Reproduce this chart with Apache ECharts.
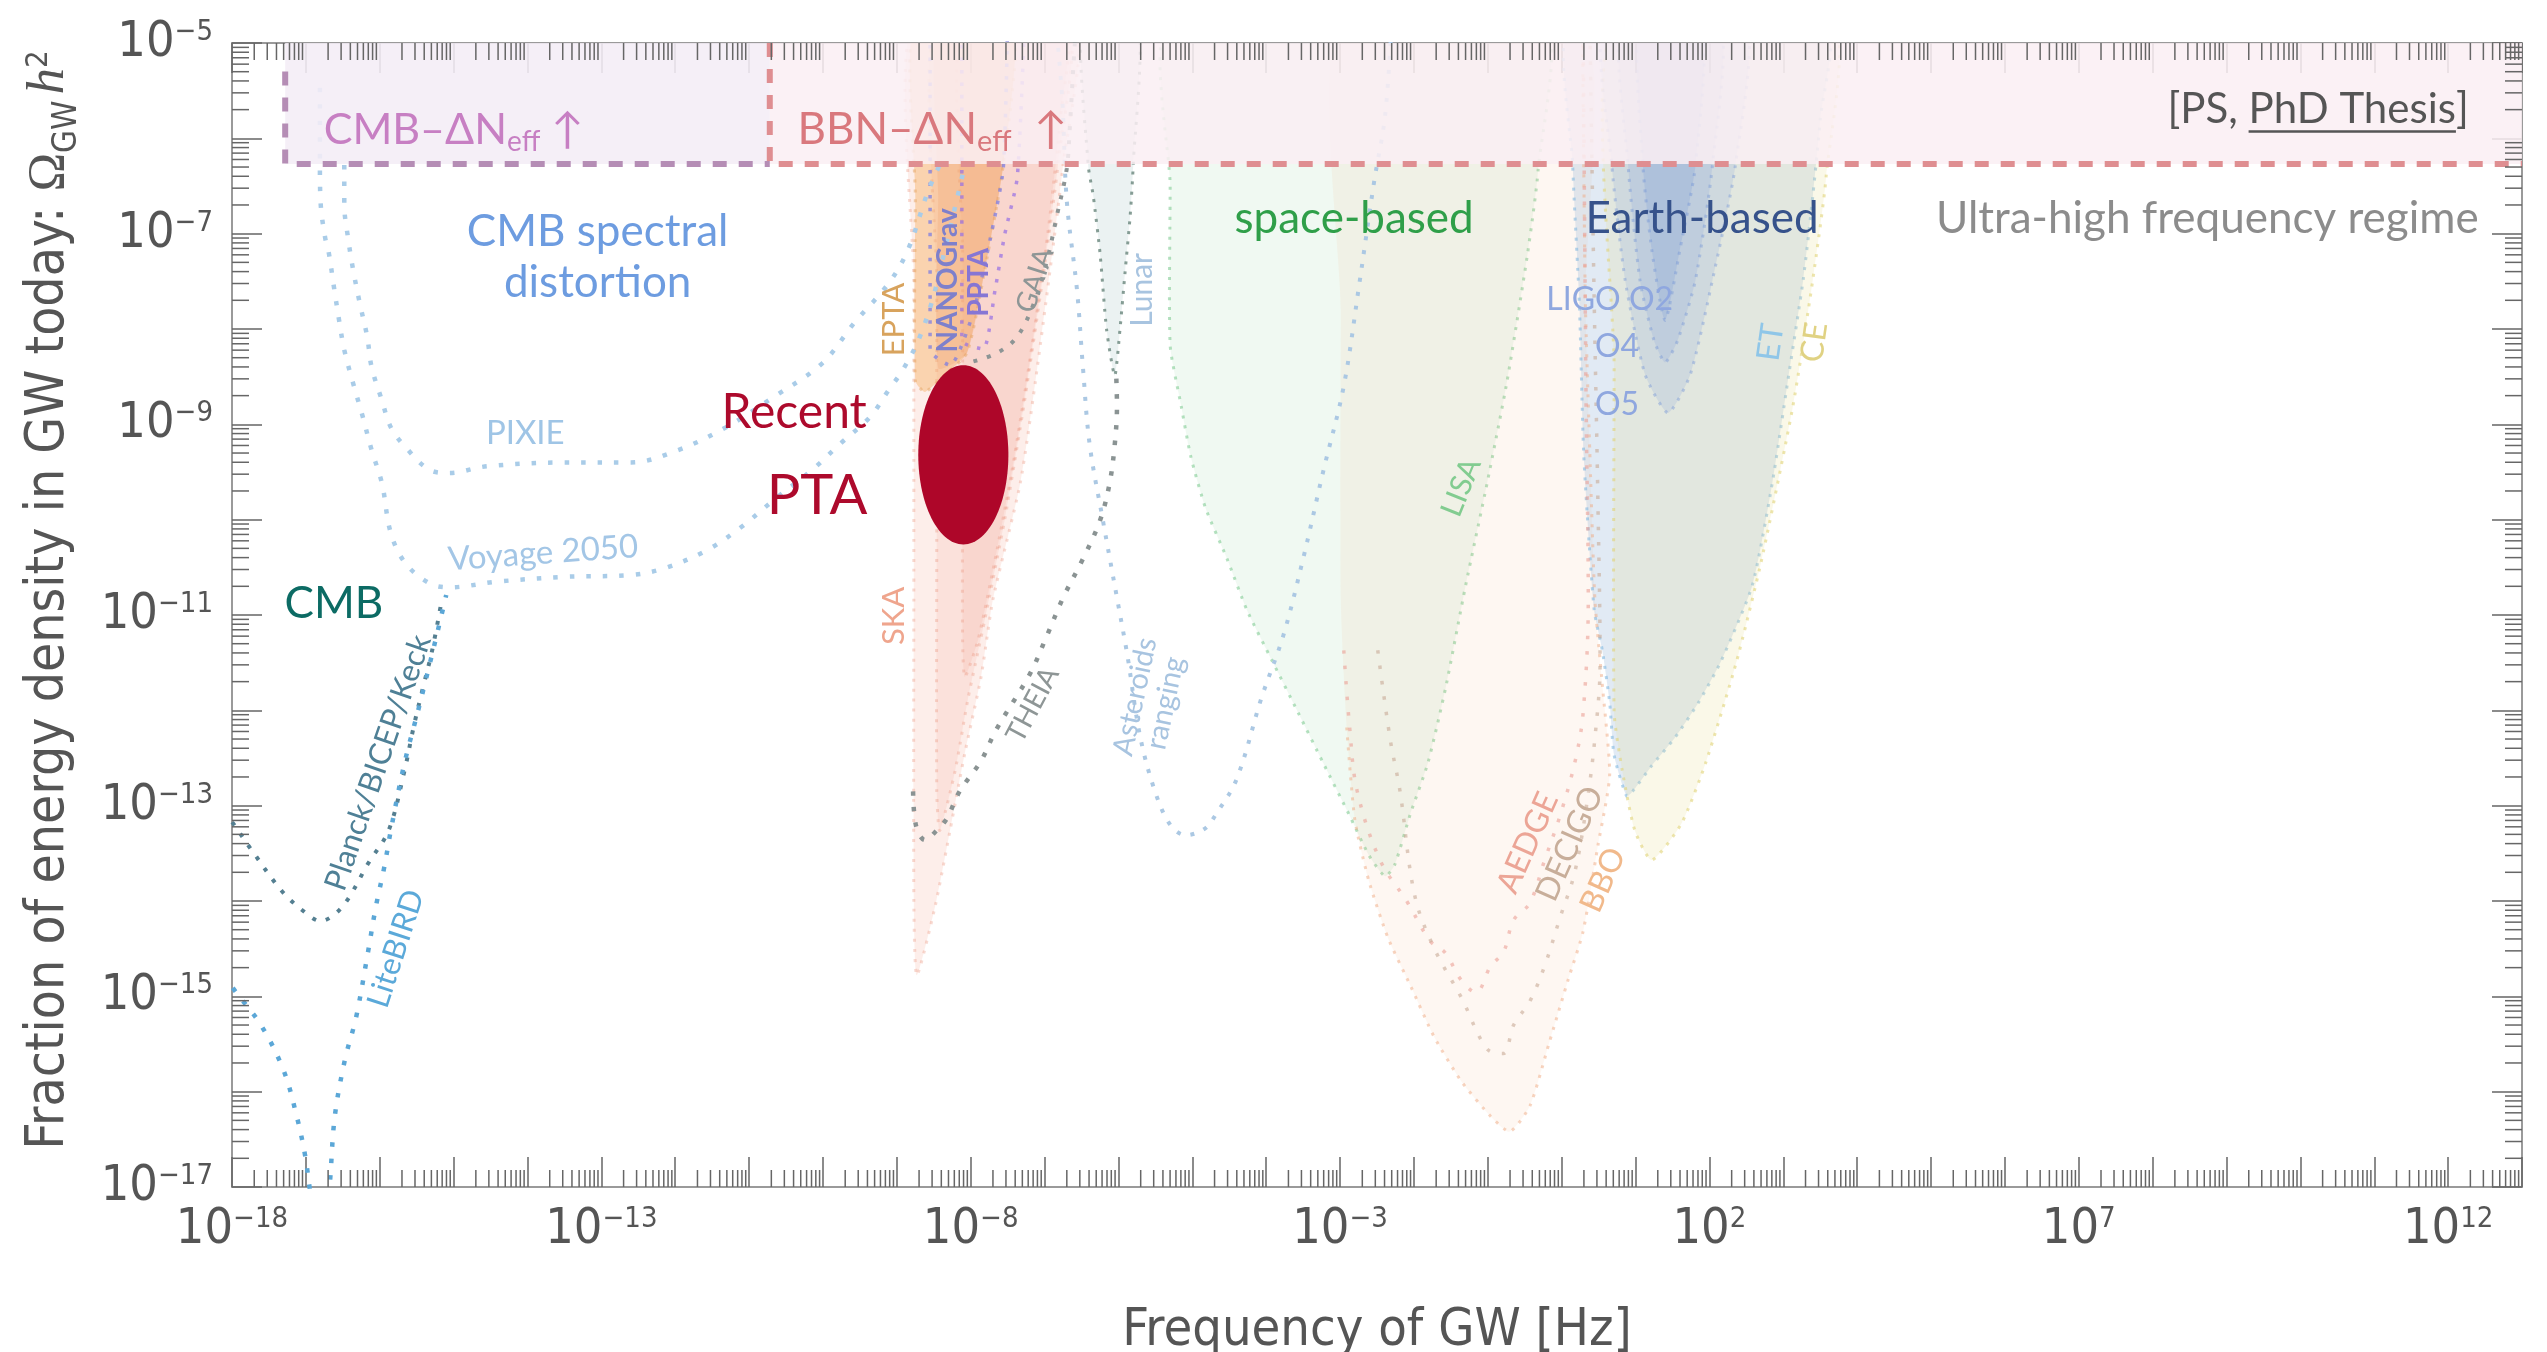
<!DOCTYPE html>
<html>
<head>
<meta charset="utf-8">
<title>Gravitational-wave sensitivity landscape</title>
<script src="https://cdn.jsdelivr.net/npm/echarts@6/dist/echarts.min.js"></script>
<style>
  html, body { margin: 0; padding: 0; background: #ffffff; }
  #chart { width: 2547px; height: 1352px; }
</style>
</head>
<body>
<div id="chart"></div>
<script>
// Every point is [log10(f / Hz), log10(Omega_GW h^2)].

// ---- axes ----
const freqExpRange = [-18, 13];
const omegaExpRange = [-17, -5];
const freqLabelStep = 5;   // label every 5th decade on the frequency axis
const omegaLabelStep = 2;  // label every 2nd decade on the energy-density axis

// ---- Delta N_eff bound (CMB part and BBN part) ----
const neffBound = -6.27;
const cmbNeffSpan = [-17.28, -10.72];
const bbnNeffSpan = [-10.72, 13.5];
const cmbNeffOutline = [[-17.28, -5.3], [-17.28, -6.27], [-10.72, -6.27]];
const bbnNeffOutline = [[-10.72, -5.0], [-10.72, -6.27], [13.0, -6.27]];

// ---- CMB ----
const planckCurve = [[-18.23,-12.94],[-18.00,-13.17],[-17.74,-13.46],[-17.32,-13.90],[-17.01,-14.12],[-16.80,-14.21],[-16.61,-14.14],[-16.43,-13.98],[-16.16,-13.61],[-15.88,-13.26],[-15.67,-12.65],[-15.54,-12.17],[-15.43,-11.81],[-15.29,-11.37],[-15.16,-10.84]];
const litebirdCurve = [[-18.23,-14.62],[-18.00,-14.90],[-17.61,-15.30],[-17.30,-15.78],[-17.12,-16.27],[-17.01,-16.67],[-16.92,-17.14],[-16.81,-17.45],[-16.70,-17.14],[-16.61,-16.27],[-16.47,-15.66],[-16.32,-15.22],[-16.16,-14.54],[-16.05,-14.05],[-15.94,-13.65],[-15.85,-13.26],[-15.67,-12.57],[-15.47,-11.97],[-15.25,-11.28],[-15.10,-10.79]];

// ---- CMB spectral distortion ----
const pixieCurve = [[-16.48,-6.28],[-16.48,-6.70],[-16.43,-7.04],[-16.36,-7.38],[-16.27,-7.73],[-16.17,-8.08],[-16.11,-8.40],[-15.97,-8.75],[-15.85,-9.03],[-15.65,-9.24],[-15.32,-9.48],[-15.06,-9.51],[-14.55,-9.44],[-13.51,-9.40],[-12.60,-9.40],[-11.96,-9.27],[-11.31,-9.03],[-10.66,-8.71],[-10.01,-8.36],[-9.57,-7.93],[-9.11,-7.52],[-8.85,-7.17],[-8.58,-6.56],[-8.42,-6.28]];
const voyageCurve = [[-16.81,-5.47],[-16.81,-6.28],[-16.80,-6.68],[-16.74,-7.04],[-16.69,-7.20],[-16.62,-7.56],[-16.55,-7.91],[-16.48,-8.22],[-16.36,-8.57],[-16.23,-8.92],[-16.11,-9.27],[-15.97,-9.62],[-15.85,-10.14],[-15.65,-10.46],[-15.32,-10.67],[-15.06,-10.71],[-14.41,-10.65],[-13.51,-10.60],[-12.60,-10.58],[-12.15,-10.51],[-11.57,-10.32],[-11.11,-10.08],[-10.66,-9.79],[-10.15,-9.48],[-9.76,-9.20],[-9.36,-8.92],[-9.11,-8.64],[-8.92,-8.43],[-8.71,-8.12],[-8.52,-7.70],[-8.35,-7.17],[-8.19,-6.65],[-8.08,-6.28]];

// ---- pulsar timing arrays ----
const skaRegion = [[-8.77,-4.76],[-8.77,-7.5],[-8.77,-10.5],[-8.77,-13.99],[-8.73,-14.78],[-8.48,-14.05],[-8.28,-13.26],[-8.08,-12.45],[-7.86,-11.65],[-7.70,-10.84],[-7.33,-9.62],[-7.10,-8.41],[-6.75,-6.28],[-6.59,-4.76]];
const ptaMidRegion = [[-8.46,-4.76],[-8.46,-7.5],[-8.46,-10.2],[-8.46,-12.84],[-8.42,-13.26],[-8.21,-12.63],[-8.04,-11.89],[-7.81,-11.05],[-7.54,-10.00],[-7.27,-8.75],[-6.99,-7.28],[-6.82,-6.28],[-6.68,-4.76]];
const pptaRegion = [[-8.11,-4.76],[-8.11,-7.2],[-8.11,-9.4],[-8.11,-11.26],[-8.08,-11.65],[-7.90,-11.26],[-7.67,-10.42],[-7.44,-9.48],[-7.20,-8.33],[-6.95,-6.96],[-6.79,-5.81],[-6.71,-4.76]];
const eptaRegion = [[-8.75,-4.76],[-8.75,-6.6],[-8.75,-8.54],[-8.62,-8.66],[-8.35,-8.48],[-8.05,-8.25],[-7.81,-7.38],[-7.56,-6.28],[-7.44,-4.76]];
const nanogravRegion = [[-8.44,-4.76],[-8.44,-6.6],[-8.44,-8.41],[-8.05,-8.25],[-7.81,-7.38],[-7.56,-6.28],[-7.44,-4.76]];
const nanogravOutline = [[-8.55,-4.76],[-8.55,-8.22],[-8.28,-8.38],[-7.97,-7.84],[-7.74,-7.07],[-7.56,-6.32],[-7.50,-4.76]];
const pptaOutline = [[-8.12,-4.76],[-8.12,-8.12],[-7.83,-8.21],[-7.67,-7.59],[-7.54,-7.01],[-7.37,-6.41],[-7.27,-4.76]];
const recentPtaCenter = [-8.10, -9.32];
const recentPtaHalfAxes = [0.61, 0.94];

// ---- astrometry / lunar / asteroid ranging ----
const gaiaCurve = [[-6.55,-4.70],[-6.59,-5.00],[-6.66,-5.91],[-6.70,-6.32],[-6.83,-6.80],[-6.97,-7.29],[-7.13,-7.70],[-7.37,-8.08],[-7.64,-8.25],[-8.01,-8.35]];
const theiaCurve = [[-8.78,-12.85],[-8.74,-13.21],[-8.62,-13.36],[-8.46,-13.26],[-8.32,-13.13],[-8.15,-12.85],[-7.86,-12.53],[-7.66,-12.21],[-7.20,-11.62],[-6.97,-11.22],[-6.75,-10.82],[-6.48,-10.41],[-6.25,-10.01],[-6.12,-9.62],[-6.05,-9.21],[-6.02,-8.81],[-6.03,-8.49]];
const lunarRegion = [[-6.48,-4.76],[-6.41,-6.28],[-6.34,-6.61],[-6.25,-7.20],[-6.16,-8.01],[-6.05,-8.49],[-5.98,-8.01],[-5.91,-7.40],[-5.84,-6.80],[-5.80,-6.28],[-5.74,-4.76]];
const asteroidsCurve = [[-6.85,-4.76],[-6.76,-5.60],[-6.70,-6.65],[-6.56,-7.60],[-6.48,-8.41],[-6.39,-9.21],[-6.21,-10.01],[-6.02,-10.82],[-5.88,-11.42],[-5.71,-12.26],[-5.51,-12.84],[-5.30,-13.20],[-5.09,-13.31],[-4.83,-13.24],[-4.68,-13.09],[-4.40,-12.72],[-4.06,-11.86],[-3.77,-11.22],[-3.50,-10.41],[-3.23,-9.50],[-2.95,-8.60],[-2.74,-7.53],[-2.54,-6.46],[-2.39,-5.76],[-2.30,-4.76]];

// ---- space-based interferometers ----
const lisaRegion = [[-5.30,-4.76],[-5.30,-6.5],[-5.30,-8.17],[-5.15,-8.81],[-5.02,-9.34],[-4.82,-9.88],[-4.53,-10.41],[-4.26,-10.95],[-3.92,-11.48],[-3.57,-12.02],[-3.23,-12.55],[-2.88,-13.09],[-2.61,-13.52],[-2.39,-13.74],[-2.26,-13.62],[-2.05,-13.09],[-1.81,-12.55],[-1.57,-11.76],[-1.30,-10.69],[-1.01,-9.62],[-0.74,-8.55],[-0.46,-7.20],[-0.32,-6.34],[-0.25,-4.76]];
const bboRegion = [[-2.99,-4.76],[-2.99,-7.8],[-2.99,-10.84],[-2.91,-12.18],[-2.80,-13.15],[-2.61,-13.79],[-2.35,-14.39],[-2.04,-14.90],[-1.73,-15.42],[-1.36,-15.89],[-0.96,-16.26],[-0.71,-16.42],[-0.43,-16.15],[-0.17,-15.49],[0.09,-14.82],[0.29,-14.32],[0.49,-13.42],[0.65,-12.66],[0.55,-11.73],[0.45,-10.84],[0.38,-9.27],[0.32,-7.69],[0.28,-4.76]];
const decigoCurve = [[-2.49,-11.37],[-2.32,-12.31],[-2.19,-12.84],[-1.99,-13.94],[-1.73,-14.49],[-1.36,-15.01],[-1.00,-15.56],[-0.79,-15.60],[-0.65,-15.30],[-0.43,-15.05],[-0.23,-14.68],[-0.02,-14.17],[0.18,-13.69],[0.34,-12.98],[0.45,-12.29],[0.52,-11.51],[0.49,-9.79],[0.44,-7.70],[0.38,-4.76]];
const aedgeCurve = [[-2.95,-11.37],[-2.87,-12.18],[-2.77,-12.84],[-2.46,-13.57],[-2.09,-14.01],[-1.78,-14.42],[-1.58,-14.54],[-1.36,-14.83],[-1.16,-14.96],[-0.96,-14.68],[-0.79,-14.54],[-0.65,-14.20],[-0.43,-14.02],[-0.23,-13.57],[-0.02,-13.10],[0.18,-12.54],[0.29,-12.03],[0.36,-10.84],[0.33,-8.75],[0.29,-4.76]];

// ---- Earth-based interferometers ----
const etRegion = [[0.13,-4.76],[0.15,-6.29],[0.24,-7.74],[0.30,-9.34],[0.44,-10.95],[0.55,-11.37],[0.65,-11.92],[0.71,-12.47],[0.88,-12.90],[0.97,-12.84],[1.22,-12.58],[1.53,-12.29],[1.85,-11.92],[2.16,-11.48],[2.58,-10.69],[2.85,-9.62],[3.06,-8.55],[3.27,-7.48],[3.40,-6.60],[3.50,-5.80],[3.58,-4.76]];
const ceRegion = [[0.71,-4.76],[0.71,-8.4],[0.71,-12.02],[0.82,-12.63],[0.99,-13.26],[1.22,-13.57],[1.62,-13.19],[1.95,-12.55],[2.37,-11.48],[2.71,-10.41],[3.13,-8.81],[3.40,-7.48],[3.58,-6.40],[3.67,-4.76]];
const ligoO5Region = [[0.59,-4.76],[0.68,-6.29],[0.86,-7.49],[1.13,-8.48],[1.44,-8.88],[1.74,-8.48],[2.04,-7.49],[2.35,-6.29],[2.48,-4.76]];
const ligoO4Region = [[0.82,-4.76],[0.90,-6.29],[1.06,-7.49],[1.25,-8.12],[1.40,-8.35],[1.57,-8.12],[1.81,-7.49],[2.04,-6.29],[2.14,-4.76]];
const ligoO2Region = [[1.06,-4.76],[1.10,-6.29],[1.22,-7.17],[1.40,-7.91],[1.60,-7.17],[1.81,-6.29],[1.90,-4.76]];

// ---- look ----
const FONT_AXIS = '"Liberation Sans Narrow", "DejaVu Sans Condensed", "Liberation Sans", sans-serif';
const FONT_TEXT = 'Lato, "Open Sans", "Noto Sans", sans-serif';
const FONT_MATH = '"Liberation Serif", "DejaVu Serif", serif';
const INK = '#555555';
const FRAME = '#9a9a9a';
const MAJOR_TICK = 30;
const MINOR_TICK = 17;

const annotations = [
  { text: 'CMB spectral\ndistortion', at: [-13.05, -7.25], color: '#6d9ce0', size: 44, lh: 51 },
  { text: 'PIXIE', at: [-14.03, -9.09], color: '#9fc5e6', size: 33 },
  { text: 'Voyage 2050', at: [-13.79, -10.35], color: '#a3c6e6', size: 33, rot: 4 },
  { text: 'CMB', at: [-16.62, -10.88], color: '#0c6b64', size: 44 },
  { text: 'Planck/BICEP/Keck', at: [-16.02, -12.55], color: '#4f8096', size: 31, rot: 71 },
  { text: 'LiteBIRD', at: [-15.78, -14.50], color: '#5ba9d9', size: 31, rot: 72 },
  { segments: [{ t: 'CMB\u2013\u0394N' }, { t: 'eff', size: 28, dy: 12 }, { t: ' \u2191' }], at: [-15.00, -5.91], color: '#c77fc3', size: 43 },
  { segments: [{ t: 'BBN\u2013\u0394N' }, { t: 'eff', size: 29, dy: 12 }, { t: '  \u2191' }], at: [-8.52, -5.91], color: '#d9787d', size: 44 },
  { segments: [{ t: '[PS, ' }, { t: 'PhD Thesis', underline: true }, { t: ']' }], at: [10.24, -5.70], color: INK, size: 42 },
  { text: 'space-based', at: [-2.81, -6.84], color: '#2f9f49', size: 44 },
  { text: 'Earth-based', at: [1.90, -6.84], color: '#36528b', size: 44 },
  { text: 'Ultra-high frequency regime', at: [8.74, -6.84], color: '#8c8c8c', size: 44 },
  { text: 'Recent', at: [-10.39, -8.88], color: '#ad0a2c', size: 48 },
  { text: 'PTA', at: [-10.08, -9.75], color: '#ad0a2c', size: 56 },
  { text: 'EPTA', at: [-9.04, -7.90], color: '#d8a35d', size: 31, rot: 90 },
  { text: 'NANOGrav', at: [-8.31, -7.49], color: '#7e80cb', size: 28, rot: 90, weight: 'bold' },
  { text: 'PPTA', at: [-7.89, -7.51], color: '#8676d4', size: 28, rot: 90, weight: 'bold' },
  { text: 'GAIA', at: [-7.13, -7.49], color: '#8e9696', size: 28, rot: 72 },
  { text: 'Lunar', at: [-5.68, -7.59], color: '#a8c4e0', size: 30, rot: 90 },
  { text: 'SKA', at: [-9.04, -11.01], color: '#efa58d', size: 31, rot: 90 },
  { text: 'THEIA', at: [-7.16, -11.94], color: '#8e9696', size: 28, rot: 62 },
  { text: 'Asteroids\nranging', at: [-5.57, -11.89], color: '#a8c4e0', size: 29, rot: 78, lh: 31 },
  { text: 'LISA', at: [-1.36, -9.66], color: '#82cc90', size: 30, rot: 68 },
  { text: 'LIGO O2', at: [0.65, -7.69], color: '#8fa7df', size: 32 },
  { text: 'O4', at: [0.75, -8.19], color: '#8fa7df', size: 32 },
  { text: 'O5', at: [0.75, -8.79], color: '#8fa7df', size: 32 },
  { text: 'ET', at: [2.83, -8.14], color: '#8fc6e8', size: 32, rot: 82 },
  { text: 'CE', at: [3.42, -8.14], color: '#e0d283', size: 32, rot: 82 },
  { text: 'AEDGE', at: [-0.46, -13.39], color: '#eca596', size: 32, rot: 66 },
  { text: 'DECIGO', at: [0.11, -13.40], color: '#c8ae9a', size: 32, rot: 66 },
  { text: 'BBO', at: [0.56, -13.78], color: '#f1b98b', size: 32, rot: 66 }
];

// ---- helpers ----
const measureCtx = document.createElement('canvas').getContext('2d');
function textWidth(str, size, family, weight) {
  measureCtx.font = (weight || 'normal') + ' ' + size + 'px ' + family;
  return measureCtx.measureText(str).width;
}

function regionSeries(points, fill, stroke, opts) {
  const o = opts || {};
  return {
    type: 'custom', coordinateSystem: 'cartesian2d', silent: true, clip: true, animation: false,
    z: o.z || 2,
    data: points,
    renderItem(params, api) {
      if (params.dataIndex !== 0) return null;
      return {
        type: 'polygon',
        shape: { points: points.map(p => api.coord(p)), smooth: o.sharp ? 0 : 0.2 },
        style: { fill: fill, stroke: stroke || 'none', lineWidth: 3, lineDash: [3, 7] }
      };
    }
  };
}

function curveSeries(points, color, width, dash, smooth, z) {
  return {
    type: 'line', data: points, symbol: 'none', silent: true, animation: false, clip: true,
    z: z || 2,
    smooth: smooth === undefined ? 0.35 : smooth,
    lineStyle: { color: color, width: width, type: dash, cap: 'butt' }
  };
}

function powerLabel(v) {
  const n = Math.round(v);
  const e = n < 0 ? '\u2212' + (-n) : String(n);
  return '{b|10}{s|' + e + '}';
}

const tickRich = {
  b: { fontSize: 50, fontFamily: FONT_AXIS, color: INK, verticalAlign: 'bottom', lineHeight: 50 },
  s: { fontSize: 29, fontFamily: FONT_AXIS, color: INK, verticalAlign: 'top', lineHeight: 29 }
};

function minorPositions(firstDecade, lastDecade) {
  const out = [];
  for (let d = firstDecade; d < lastDecade; d++) {
    for (let k = 2; k <= 9; k++) out.push(d + Math.log10(k));
  }
  return out;
}
const minorFreqTicks = minorPositions(freqExpRange[0], freqExpRange[1]);
const minorOmegaTicks = minorPositions(omegaExpRange[0], omegaExpRange[1]);
const tickStyle = { stroke: '#666666', lineWidth: 1.5 };

function buildLabel(a, p) {
  const family = a.family || FONT_TEXT;
  const weight = a.weight || 'normal';
  const rot = (a.rot || 0) * Math.PI / 180;
  if (!a.segments) {
    return {
      type: 'text', x: p[0], y: p[1], rotation: rot,
      style: { text: a.text, fill: a.color, fontSize: a.size, fontFamily: family, fontWeight: weight,
               align: 'center', verticalAlign: 'middle', lineHeight: a.lh }
    };
  }
  const widths = a.segments.map(s => textWidth(s.t, s.size || a.size, family, weight));
  const total = widths.reduce((u, v) => u + v, 0);
  let x = -total / 2;
  const children = [];
  a.segments.forEach((s, i) => {
    const size = s.size || a.size;
    children.push({
      type: 'text', x: x, y: s.dy || 0,
      style: { text: s.t, fill: a.color, fontSize: size, fontFamily: family, fontWeight: weight,
               align: 'left', verticalAlign: 'middle' }
    });
    if (s.underline) {
      children.push({ type: 'line', shape: { x1: x, y1: size * 0.52, x2: x + widths[i], y2: size * 0.52 },
                      style: { stroke: a.color, lineWidth: 2.5 } });
    }
    x += widths[i];
  });
  return { type: 'group', x: p[0], y: p[1], rotation: rot, children: children };
}

const dotted = (w, gap) => [w, gap];

// ---- series, back to front ----
const series = [
  regionSeries(lisaRegion, 'rgba(130,205,150,0.12)', 'rgba(120,200,140,0.55)'),
  regionSeries(bboRegion, 'rgba(242,175,130,0.1)', null),
  curveSeries(bboRegion.slice(3), 'rgba(240,170,130,0.5)', 3, [3, 7], 0.2),
  regionSeries(etRegion, 'rgba(135,170,210,0.25)', 'rgba(130,185,225,0.6)'),
  regionSeries(ceRegion, 'rgba(232,222,140,0.2)', 'rgba(225,212,120,0.6)'),
  regionSeries(ligoO5Region, 'rgba(110,145,215,0.16)', 'rgba(110,145,215,0.4)'),
  regionSeries(ligoO4Region, 'rgba(110,145,215,0.16)', 'rgba(110,145,215,0.4)'),
  regionSeries(ligoO2Region, 'rgba(110,145,215,0.2)', 'rgba(110,145,215,0.4)'),
  regionSeries(lunarRegion, 'rgba(175,205,205,0.25)', 'rgba(95,125,115,0.75)'),
  regionSeries(skaRegion, 'rgba(240,150,125,0.16)', 'rgba(236,150,125,0.35)'),
  regionSeries(ptaMidRegion, 'rgba(240,150,125,0.14)', 'rgba(236,150,125,0.35)'),
  regionSeries(pptaRegion, 'rgba(240,150,125,0.14)', 'rgba(236,150,125,0.35)'),
  regionSeries(eptaRegion, 'rgba(246,178,105,0.45)', 'rgba(230,165,100,0.5)'),
  regionSeries(nanogravRegion, 'rgba(235,150,95,0.2)', null),

  curveSeries(nanogravOutline, 'rgba(125,125,225,0.75)', 3.5, dotted(3.5, 9), 0.2),
  curveSeries(pptaOutline, 'rgba(150,110,230,0.7)', 3.5, dotted(3.5, 9), 0.2),
  curveSeries(aedgeCurve, 'rgba(235,160,150,0.6)', 3.5, dotted(3.5, 12)),
  curveSeries(decigoCurve, 'rgba(200,170,150,0.6)', 3.5, dotted(3.5, 12)),
  curveSeries(gaiaCurve, '#8d9595', 4, dotted(4, 10)),
  curveSeries(theiaCurve, '#8a9393', 4.5, dotted(4.5, 11)),
  curveSeries(asteroidsCurve, '#abc8e3', 4, dotted(4, 10)),
  curveSeries(pixieCurve, '#a9cce8', 4.5, dotted(4.5, 12)),
  curveSeries(voyageCurve, '#a9cce8', 4.5, dotted(4.5, 12)),
  curveSeries(planckCurve, '#547f91', 4, dotted(4, 10)),
  curveSeries(litebirdCurve, '#5ba7d7', 4.5, dotted(4.5, 12)),

  // translucent Delta N_eff bands sit above all sensitivity curves
  regionSeries([[cmbNeffSpan[0], -4], [cmbNeffSpan[0], neffBound], [cmbNeffSpan[1], neffBound], [cmbNeffSpan[1], -4]],
               'rgba(244,237,246,0.88)', null, { sharp: true, z: 3 }),
  regionSeries([[bbnNeffSpan[0], -4], [bbnNeffSpan[0], neffBound], [bbnNeffSpan[1], neffBound], [bbnNeffSpan[1], -4]],
               'rgba(250,239,243,0.86)', null, { sharp: true, z: 3 }),
  curveSeries(cmbNeffOutline, '#b58db5', 6, [14, 12], false, 4),
  curveSeries(bbnNeffOutline, '#df8e91', 6, [14, 12], false, 4),

  {
    type: 'custom', coordinateSystem: 'cartesian2d', silent: true, clip: true, animation: false, z: 4,
    data: [recentPtaCenter],
    renderItem(params, api) {
      const c = api.coord(recentPtaCenter);
      const r = api.size(recentPtaHalfAxes);
      const pts = [];
      for (let i = 0; i < 120; i++) {
        const t = i / 120 * Math.PI * 2;
        pts.push([c[0] + r[0] * Math.cos(t), c[1] + r[1] * Math.sin(t)]);
      }
      return { type: 'polygon', shape: { points: pts }, style: { fill: '#ae0629' } };
    }
  },

  {
    type: 'custom', coordinateSystem: 'cartesian2d', silent: true, clip: false, animation: false, z: 5,
    data: annotations.map(a => a.at),
    renderItem(params, api) {
      const a = annotations[params.dataIndex];
      return buildLabel(a, api.coord(a.at));
    }
  },

  {
    type: 'custom', coordinateSystem: 'cartesian2d', silent: true, clip: false, animation: false, z: 6,
    data: minorFreqTicks.map(v => [v, omegaExpRange[0]]),
    renderItem(params, api) {
      const cs = params.coordSys;
      const x = api.coord([api.value(0), omegaExpRange[0]])[0];
      const top = cs.y, bottom = cs.y + cs.height;
      return { type: 'group', children: [
        { type: 'line', shape: { x1: x, y1: bottom, x2: x, y2: bottom - MINOR_TICK }, style: tickStyle },
        { type: 'line', shape: { x1: x, y1: top, x2: x, y2: top + MINOR_TICK }, style: tickStyle }
      ] };
    }
  },
  {
    type: 'custom', coordinateSystem: 'cartesian2d', silent: true, clip: false, animation: false, z: 6,
    data: minorOmegaTicks.map(v => [freqExpRange[0], v]),
    renderItem(params, api) {
      const cs = params.coordSys;
      const y = api.coord([freqExpRange[0], api.value(1)])[1];
      const left = cs.x, right = cs.x + cs.width;
      return { type: 'group', children: [
        { type: 'line', shape: { x1: left, y1: y, x2: left + MINOR_TICK, y2: y }, style: tickStyle },
        { type: 'line', shape: { x1: right, y1: y, x2: right - MINOR_TICK, y2: y }, style: tickStyle }
      ] };
    }
  }
];

const axisCommon = {
  type: 'value',
  axisLine: { show: true, onZero: false, lineStyle: { color: FRAME, width: 2 } },
  axisTick: { show: true, inside: true, length: MAJOR_TICK, lineStyle: { color: '#666666', width: 1.5 } },
  splitLine: { show: false },
  interval: 1
};

const option = {
  animation: false,
  backgroundColor: '#ffffff',
  grid: { left: 232, right: 25, top: 43, bottom: 165, containLabel: false, outerBoundsMode: 'none' },
  xAxis: [
    Object.assign({}, axisCommon, {
      min: freqExpRange[0], max: freqExpRange[1], position: 'bottom',
      axisLabel: {
        margin: 18, hideOverlap: false, showMinLabel: true, showMaxLabel: true,
        formatter: v => ((Math.round(v) - freqExpRange[0]) % freqLabelStep === 0 ? powerLabel(v) : ''),
        rich: tickRich
      },
      name: 'Frequency of GW [Hz]', nameLocation: 'middle', nameGap: 118,
      nameTextStyle: { fontSize: 52, fontFamily: FONT_AXIS, color: INK }
    }),
    Object.assign({}, axisCommon, {
      min: freqExpRange[0], max: freqExpRange[1], position: 'top', axisLabel: { show: false }
    })
  ],
  yAxis: [
    Object.assign({}, axisCommon, {
      min: omegaExpRange[0], max: omegaExpRange[1], position: 'left',
      axisLabel: {
        margin: 19, hideOverlap: false, showMinLabel: true, showMaxLabel: true,
        formatter: v => ((Math.round(v) - omegaExpRange[0]) % omegaLabelStep === 0 ? powerLabel(v) : ''),
        rich: tickRich
      },
      name: '{t|Fraction of energy density in GW today: }{o|\u03A9}{g|GW}{h|h}{p|2}',
      nameLocation: 'middle', nameGap: 148, nameRotate: 90,
      nameTextStyle: {
        color: INK,
        padding: [0, 0, 0, 30],
        rich: {
          t: { fontSize: 53, fontFamily: FONT_AXIS, color: INK, verticalAlign: 'bottom', padding: [0, 0, 8, 0] },
          o: { fontSize: 52, fontFamily: FONT_MATH, color: INK, verticalAlign: 'bottom', padding: [0, 0, 8, 0] },
          g: { fontSize: 33, fontFamily: FONT_AXIS, color: INK, verticalAlign: 'bottom' },
          h: { fontSize: 53, fontFamily: FONT_MATH, fontStyle: 'italic', color: INK, verticalAlign: 'bottom', padding: [0, 0, 8, 6] },
          p: { fontSize: 31, fontFamily: FONT_AXIS, color: INK, verticalAlign: 'top' }
        }
      }
    }),
    Object.assign({}, axisCommon, {
      min: omegaExpRange[0], max: omegaExpRange[1], position: 'right', axisLabel: { show: false }
    })
  ],
  series: series
};

const chart = echarts.init(document.getElementById('chart'), null, { renderer: 'canvas' });
chart.setOption(option);
</script>
</body>
</html>
